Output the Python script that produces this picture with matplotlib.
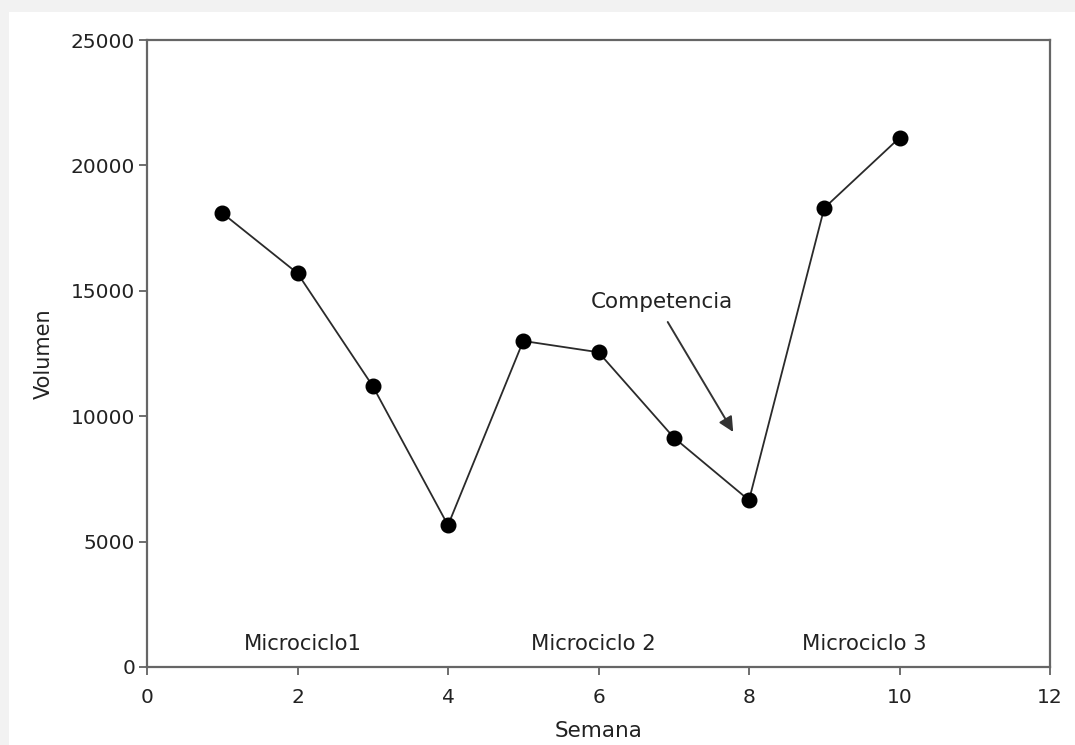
import matplotlib
matplotlib.use("Agg")
import matplotlib.pyplot as plt
from matplotlib.patches import Rectangle

semana = [1, 2, 3, 4, 5, 6, 7, 8, 9, 10]
volumen = [18100, 15700, 11200, 5650, 13000, 12550, 9150, 6650, 18300, 21100]
x_ticks = [0, 2, 4, 6, 8, 10, 12]
y_ticks = [0, 5000, 10000, 15000, 20000, 25000]
fase_labels = ["Microciclo1", "Microciclo 2", "Microciclo 3"]
fase_x = [2.07, 5.93, 9.53]
fase_y = [520, 520, 520]

plt.rcParams['font.family'] = ['DejaVu Sans']
fig = plt.figure(figsize=(10.75, 7.45), dpi=100)
fig.patch.set_facecolor('#f2f2f2')
bg = Rectangle((9/1075, 0), 1 - 9/1075, 1 - 12/745, transform=fig.transFigure,
               facecolor='white', edgecolor='none', zorder=-10)
fig.patches.append(bg)
ax = fig.add_axes([147/1075, 1 - 667/745, (1050 - 147)/1075, (667 - 40)/745])
ax.set_zorder(1)
ax.set_facecolor('white')

ax.plot(semana, volumen, color='#2a2a2a', linewidth=1.3, marker='o', markersize=10.5,
        markerfacecolor='black', markeredgecolor='black', zorder=3)

ax.set_xlim(0, 12)
ax.set_ylim(0, 25000)
ax.set_xticks(x_ticks)
ax.set_yticks(y_ticks)
ax.tick_params(direction='out', length=6, width=1.2, color='#555555', labelsize=14.5,
               labelcolor='#222222')
ax.tick_params(axis='x', pad=9)
ax.tick_params(axis='y', pad=2.5)
for s in ax.spines.values():
    s.set_color('#666666')
    s.set_linewidth(1.6)

ax.set_xlabel('Semana', fontsize=15.5, color='#222222', labelpad=10)
ax.set_ylabel('Volumen', fontsize=15, color='#222222', labelpad=12)

for lab, xx, yy in zip(fase_labels, fase_x, fase_y):
    ax.text(xx, yy, lab, ha='center', va='bottom', fontsize=15.2, color='#222222')

ax.text(6.84, 14550, 'Competencia', ha='center', va='center', fontsize=15.5, color='#222222')
ax.annotate('', xy=(7.79, 9370), xytext=(6.92, 13756),
            arrowprops=dict(arrowstyle='-|>,head_length=0.45,head_width=0.22', color='#333333',
                            lw=1.4, mutation_scale=20, shrinkA=0, shrinkB=0))

fig.savefig('out.png', dpi=100, facecolor=fig.get_facecolor())
